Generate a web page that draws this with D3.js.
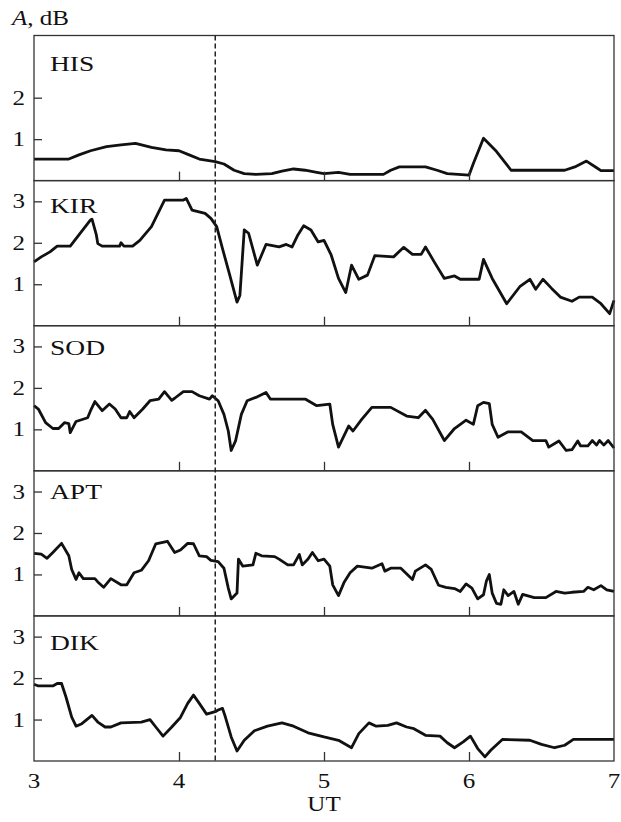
<!DOCTYPE html>
<html>
<head>
<meta charset="utf-8">
<title>A, dB</title>
<style>
  body { margin: 0; background: #fff; }
  .frame { fill: none; stroke: #333; stroke-width: 1.3px; }
  .trace { fill: none; stroke: #111; stroke-width: 2.8px; stroke-linejoin: round; }
  text { font-family: "Liberation Serif", "Times New Roman", serif; fill: #111; }
</style>
<script src="https://cdnjs.cloudflare.com/ajax/libs/d3/7.8.5/d3.min.js"></script>
</head>
<body>
<svg id="chart" width="621" height="822"></svg>
<script>
// stations, top to bottom
var stations = ["HIS", "KIR", "SOD", "APT", "DIK"];

var hisT = [3.00,3.24,3.31,3.39,3.50,3.60,3.70,3.81,3.91,4.00,4.07,4.14,4.25,4.31,4.38,4.45,4.53,4.64,4.71,4.79,4.87,4.95,5.00,5.10,5.18,5.41,5.46,5.52,5.70,5.78,5.85,6.00,6.03,6.10,6.19,6.29,6.66,6.73,6.81,6.88,6.91,7.00];
var hisA = [0.52,0.52,0.62,0.72,0.82,0.86,0.90,0.80,0.74,0.72,0.62,0.52,0.46,0.40,0.25,0.17,0.15,0.17,0.23,0.28,0.25,0.20,0.17,0.20,0.15,0.15,0.25,0.33,0.33,0.25,0.17,0.13,0.41,1.02,0.70,0.25,0.25,0.33,0.47,0.31,0.24,0.24];

var kirT = [3.00,3.05,3.11,3.16,3.25,3.31,3.39,3.40,3.43,3.44,3.47,3.59,3.60,3.62,3.68,3.73,3.81,3.90,4.03,4.05,4.09,4.18,4.22,4.26,4.30,4.35,4.40,4.42,4.45,4.48,4.54,4.60,4.69,4.74,4.78,4.82,4.86,4.91,4.96,5.00,5.05,5.10,5.15,5.19,5.24,5.30,5.35,5.48,5.55,5.61,5.67,5.70,5.76,5.83,5.90,5.94,6.07,6.10,6.16,6.26,6.35,6.42,6.46,6.51,6.57,6.63,6.71,6.76,6.85,6.91,6.97,7.00];
var kirA = [1.54,1.66,1.78,1.92,1.92,2.19,2.55,2.57,2.19,1.98,1.92,1.92,2.00,1.92,1.92,2.06,2.39,3.03,3.03,3.07,2.79,2.71,2.59,2.39,1.86,1.22,0.57,0.73,2.31,2.23,1.46,1.96,1.90,1.96,1.90,2.19,2.41,2.31,2.02,2.06,1.70,1.14,0.80,1.46,1.12,1.22,1.69,1.66,1.89,1.72,1.72,1.90,1.54,1.14,1.20,1.12,1.12,1.60,1.14,0.53,0.94,1.12,0.88,1.12,0.90,0.69,0.59,0.69,0.69,0.53,0.29,0.61];

var sodT = [3.00,3.03,3.08,3.13,3.17,3.21,3.24,3.25,3.29,3.37,3.39,3.42,3.47,3.52,3.56,3.60,3.64,3.66,3.69,3.75,3.80,3.86,3.90,3.95,3.97,4.03,4.09,4.14,4.21,4.23,4.27,4.31,4.34,4.36,4.39,4.43,4.47,4.53,4.60,4.63,4.87,4.95,5.04,5.06,5.10,5.17,5.20,5.26,5.33,5.46,5.57,5.65,5.70,5.75,5.83,5.90,5.98,6.03,6.06,6.10,6.14,6.16,6.20,6.27,6.36,6.44,6.53,6.55,6.62,6.67,6.71,6.75,6.77,6.82,6.85,6.88,6.90,6.93,6.96,7.00];
var sodA = [1.57,1.49,1.16,1.02,1.02,1.16,1.14,0.92,1.19,1.28,1.45,1.67,1.45,1.61,1.49,1.28,1.28,1.43,1.28,1.49,1.69,1.73,1.91,1.70,1.75,1.91,1.91,1.81,1.73,1.81,1.69,1.36,0.96,0.49,0.72,1.36,1.69,1.77,1.89,1.73,1.73,1.57,1.61,1.12,0.57,1.08,0.96,1.24,1.53,1.53,1.32,1.28,1.46,1.24,0.73,1.02,1.22,1.12,1.57,1.65,1.62,1.12,0.81,0.94,0.94,0.73,0.73,0.57,0.72,0.49,0.51,0.72,0.60,0.60,0.73,0.62,0.73,0.62,0.73,0.55];

var aptT = [3.00,3.05,3.09,3.13,3.19,3.24,3.26,3.29,3.31,3.34,3.42,3.44,3.48,3.53,3.60,3.64,3.69,3.74,3.79,3.84,3.92,3.97,4.01,4.06,4.10,4.14,4.19,4.22,4.27,4.31,4.34,4.36,4.40,4.41,4.44,4.51,4.53,4.57,4.66,4.69,4.75,4.79,4.83,4.85,4.89,4.92,4.96,5.00,5.04,5.06,5.10,5.14,5.18,5.23,5.33,5.40,5.42,5.46,5.53,5.61,5.63,5.70,5.74,5.79,5.84,5.90,5.94,5.98,6.02,6.06,6.10,6.12,6.14,6.16,6.19,6.22,6.24,6.27,6.31,6.34,6.37,6.45,6.53,6.60,6.66,6.71,6.79,6.82,6.86,6.91,6.95,7.00];
var aptA = [1.51,1.49,1.39,1.53,1.75,1.45,1.12,0.88,1.04,0.90,0.90,0.82,0.69,0.90,0.75,0.75,1.04,1.10,1.33,1.74,1.80,1.53,1.59,1.75,1.74,1.45,1.43,1.34,1.31,1.15,0.67,0.41,0.55,1.37,1.20,1.23,1.51,1.45,1.43,1.37,1.23,1.23,1.48,1.23,1.37,1.53,1.33,1.37,1.20,0.75,0.49,0.82,1.04,1.20,1.15,1.26,1.08,1.15,1.15,0.88,1.08,1.23,1.12,0.74,0.69,0.66,0.59,0.77,0.67,0.41,0.51,0.84,1.00,0.55,0.30,0.28,0.63,0.49,0.59,0.28,0.52,0.44,0.44,0.59,0.55,0.57,0.59,0.69,0.63,0.73,0.63,0.59];

var dikT = [3.00,3.03,3.13,3.16,3.19,3.22,3.26,3.29,3.33,3.40,3.44,3.49,3.53,3.60,3.74,3.80,3.84,3.89,3.95,4.01,4.06,4.10,4.14,4.19,4.25,4.27,4.30,4.32,4.36,4.40,4.45,4.52,4.61,4.71,4.79,4.89,5.00,5.10,5.19,5.24,5.31,5.36,5.44,5.50,5.57,5.62,5.70,5.80,5.85,5.90,5.96,6.01,6.06,6.11,6.15,6.23,6.42,6.50,6.59,6.66,6.72,7.00];
var dikA = [1.85,1.81,1.81,1.87,1.87,1.55,1.06,0.84,0.90,1.10,0.94,0.82,0.82,0.92,0.94,1.00,0.82,0.60,0.82,1.05,1.39,1.59,1.39,1.13,1.19,1.23,1.27,1.06,0.58,0.24,0.50,0.73,0.84,0.92,0.84,0.68,0.58,0.50,0.32,0.66,0.92,0.84,0.86,0.92,0.82,0.78,0.62,0.60,0.44,0.32,0.46,0.60,0.30,0.10,0.26,0.52,0.50,0.40,0.32,0.38,0.52,0.52];

var seriesT = [hisT, kirT, sodT, aptT, dikT];
var seriesA = [hisA, kirA, sodA, aptA, dikA];

var yTicks = [[1, 2], [1, 2, 3], [1, 2, 3], [1, 2, 3], [1, 2, 3]];
var xTicks = [3, 4, 5, 6, 7];
var markerUT = 4.25;

// layout
var left = 34, right = 614, top0 = 35.5, panelH = 145.1;
var labelDy = [35, 32, 29, 28, 34];   // panel label baseline below panel top
var stretch = "scale(1.25,1)";        // the original lettering is wide

var svg = d3.select("#chart");
var x = d3.scaleLinear().domain([3, 7]).range([left, right]);

function wideText(g, tx, ty, size, anchor, str) {
    return g.append("text")
        .attr("transform", "translate(" + tx + "," + ty + ") " + stretch)
        .attr("font-size", size)
        .attr("text-anchor", anchor)
        .text(str);
}

stations.forEach(function(name, i) {
    var y0 = top0 + i * panelH;
    var y = d3.scaleLinear().domain([0, 3.5]).range([y0 + panelH, y0]);
    var g = svg.append("g");

    var pts = seriesT[i].map(function(t, k) { return [t, seriesA[i][k]]; });
    var line = d3.line()
        .x(function(d) { return x(d[0]); })
        .y(function(d) { return y(d[1]); });

    g.append("path").attr("class", "trace").attr("d", line(pts));

    g.append("rect").attr("class", "frame")
        .attr("x", left).attr("y", y0)
        .attr("width", right - left).attr("height", panelH);

    // left ticks, inward
    var ya = d3.axisRight(y).tickValues(yTicks[i]).tickSize(8).tickFormat("");
    g.append("g").attr("transform", "translate(" + left + ",0)").call(ya)
        .call(function(s) { s.select(".domain").remove(); s.selectAll("line").attr("stroke", "#333").attr("stroke-width", 1.3); });

    yTicks[i].forEach(function(v) {
        wideText(g, 25, y(v) + 7, 20, "end", v);
    });

    // bottom ticks, pointing up
    var xa = d3.axisTop(x).tickValues([4, 5, 6]).tickSize(9).tickFormat("");
    g.append("g").attr("transform", "translate(0," + (y0 + panelH) + ")").call(xa)
        .call(function(s) { s.select(".domain").remove(); s.selectAll("line").attr("stroke", "#333").attr("stroke-width", 1.3); });

    wideText(g, 50, y0 + labelDy[i], 22, "start", name);
});

var bottom = top0 + 5 * panelH;

svg.append("line")
    .attr("x1", x(markerUT)).attr("x2", x(markerUT))
    .attr("y1", top0).attr("y2", bottom)
    .attr("stroke", "#222").attr("stroke-width", 1.5)
    .attr("stroke-dasharray", "5,3");

xTicks.forEach(function(v) {
    wideText(svg, x(v), bottom + 27, 20, "middle", v);
});
wideText(svg, (left + right) / 2, bottom + 50, 20, "middle", "UT");

var title = svg.append("text")
    .attr("transform", "translate(12,25) " + stretch)
    .attr("font-size", 20);
title.append("tspan").attr("font-style", "italic").text("A");
title.append("tspan").text(", dB");
</script>
</body>
</html>
